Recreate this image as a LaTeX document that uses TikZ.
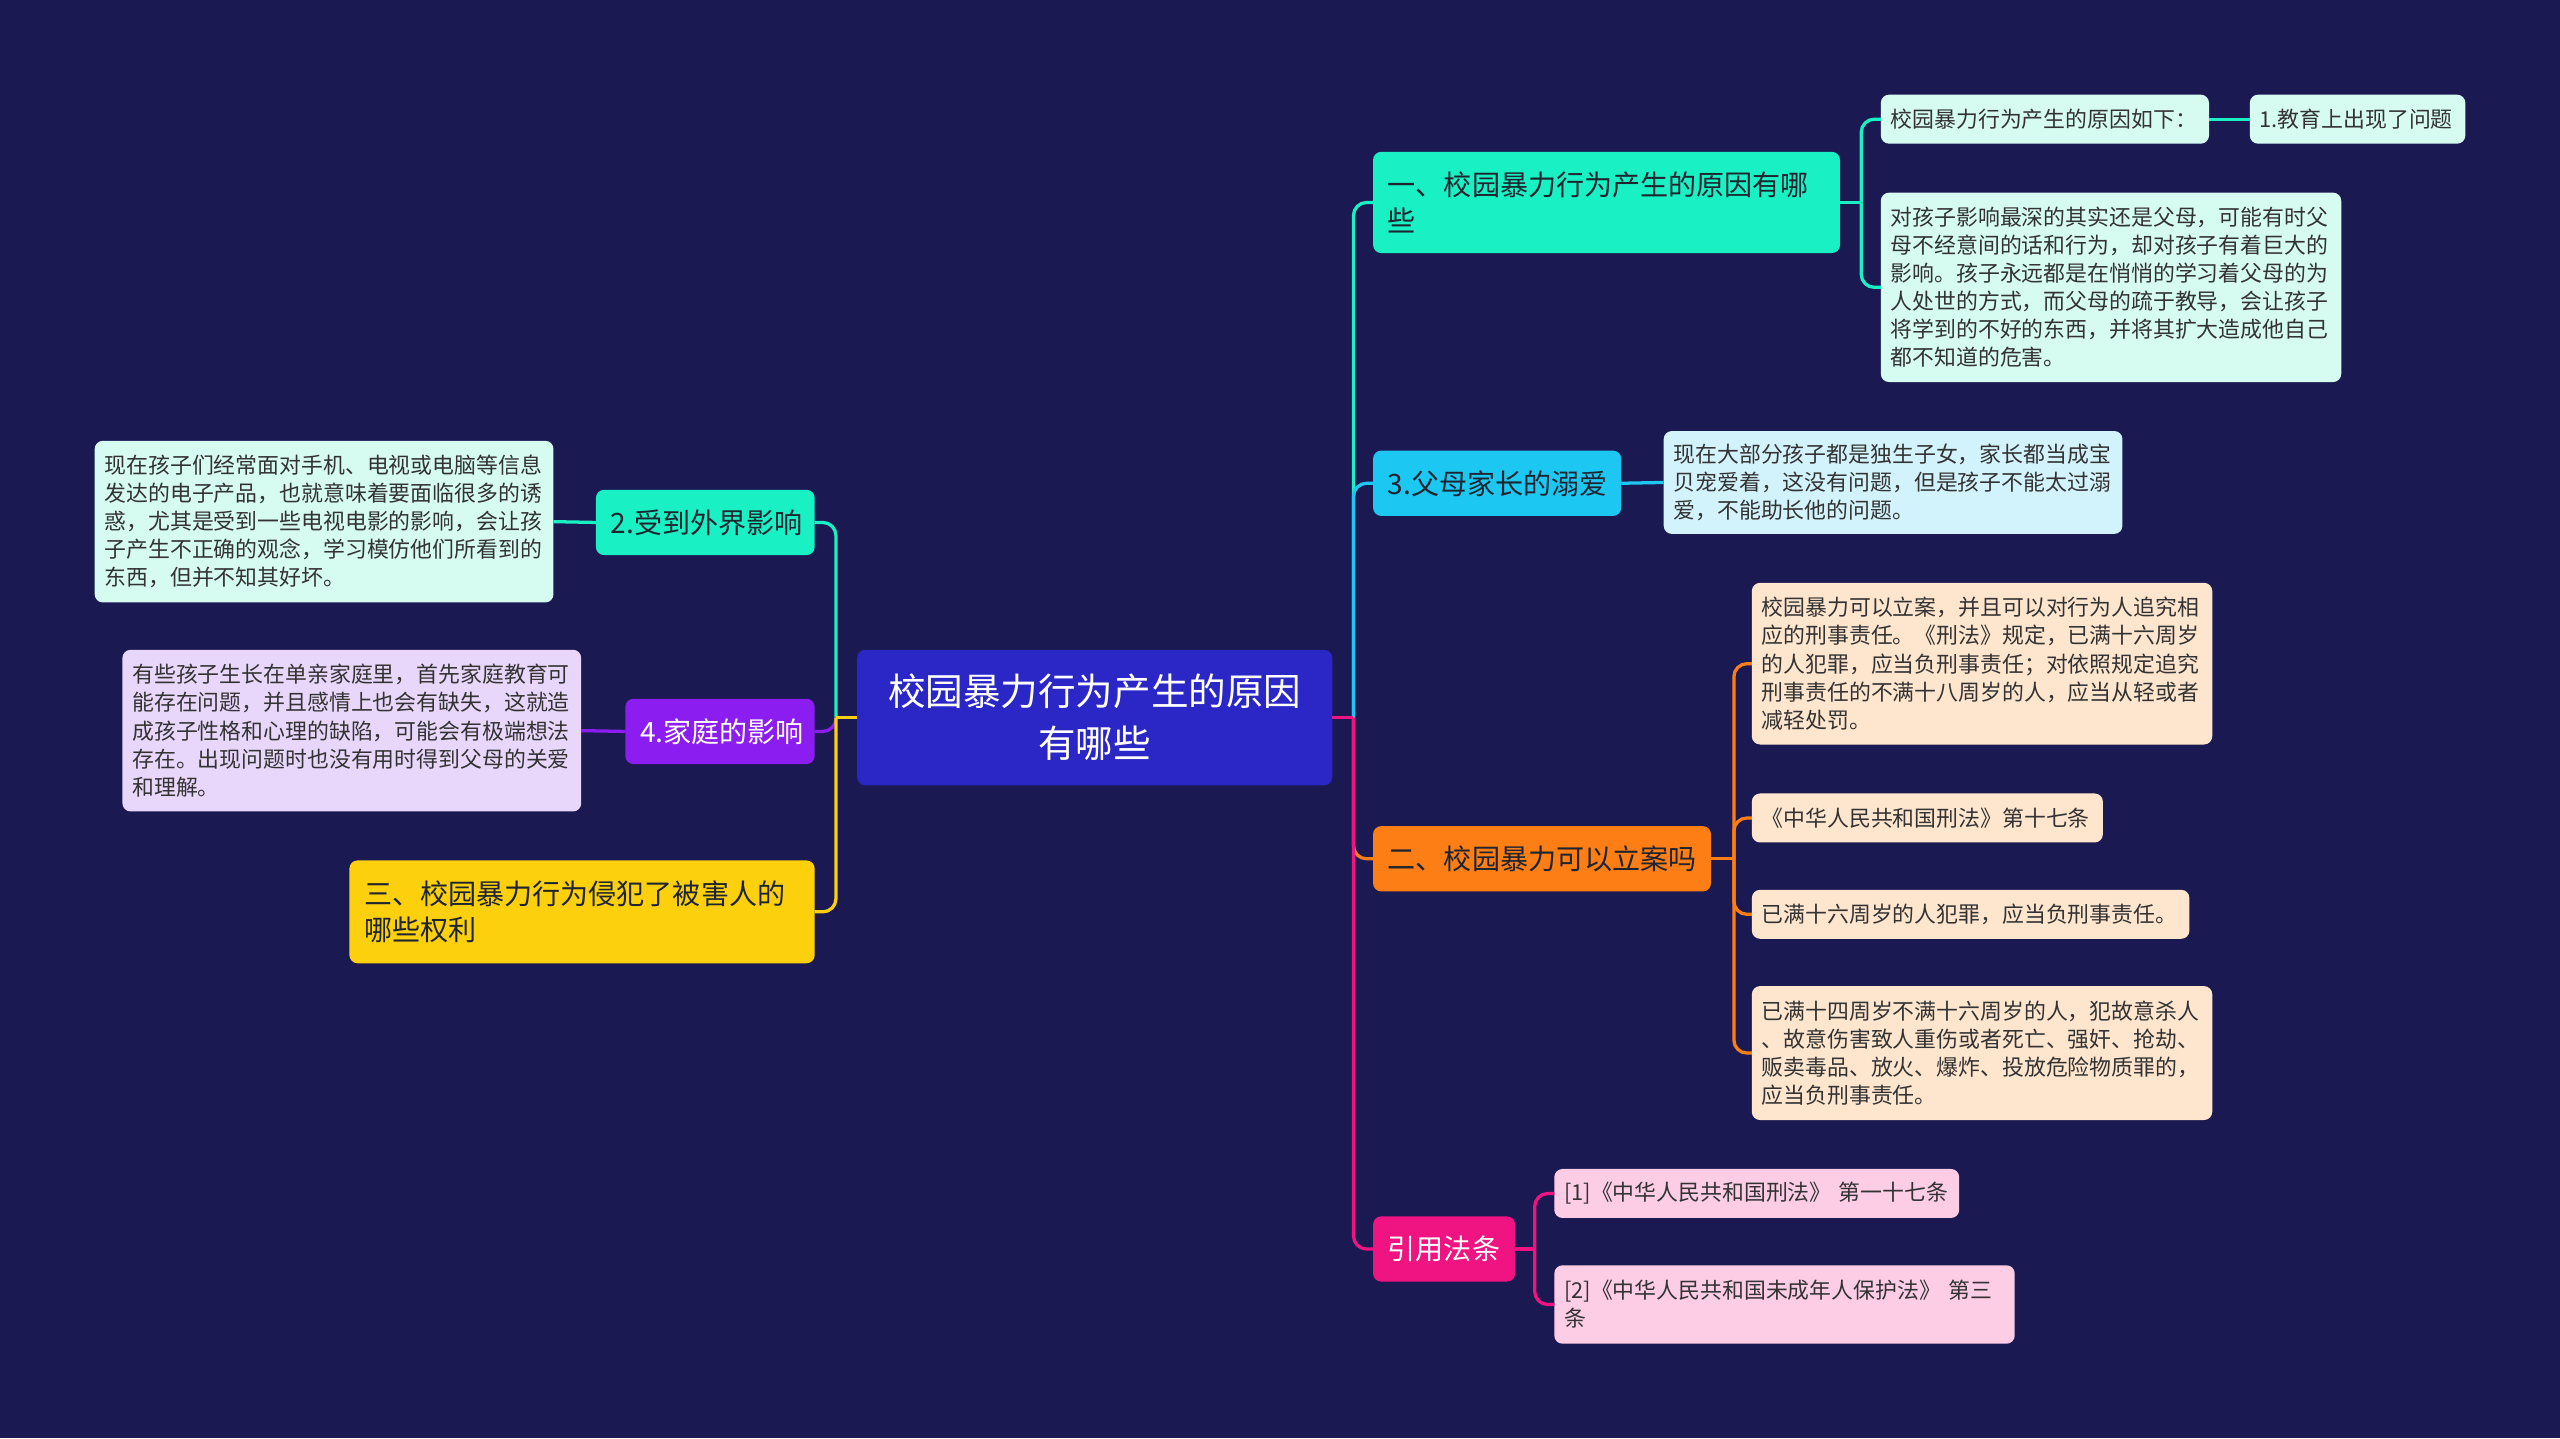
\documentclass[tikz,border=0pt]{standalone}
\usepackage{fontspec}
\newfontfamily\cjk{Noto Sans CJK SC}
\definecolor{bg}{HTML}{1B1951}
\definecolor{rootc}{HTML}{2B27C6}
\definecolor{tealc}{HTML}{19F0C3}
\definecolor{cyanc}{HTML}{1CC8F2}
\definecolor{orangec}{HTML}{FD7E14}
\definecolor{pinkc}{HTML}{EF1481}
\definecolor{purplec}{HTML}{8B1DF0}
\definecolor{yellowc}{HTML}{FDD00E}
\definecolor{ltteal}{HTML}{D6FBF1}
\definecolor{ltcyan}{HTML}{D3F3FC}
\definecolor{ltpeach}{HTML}{FEE5CE}
\definecolor{ltpink}{HTML}{FCCDE5}
\definecolor{ltpurple}{HTML}{E8D7FB}
\definecolor{darktext}{HTML}{1E2530}
\definecolor{leaftext}{HTML}{333333}
\tikzset{
  nodebox/.style={rounded corners=5pt, anchor=north west, inner ysep=0pt, outer sep=0pt},
  rootbox/.style={nodebox, fill=rootc, text=white, inner xsep=7pt, align=center,
     font=\cjk\fontsize{23}{31.8}\selectfont},
  mainbox/.style={nodebox, inner xsep=9pt, align=left,
     font=\cjk\fontsize{17.2}{22}\selectfont},
  leafbox/.style={nodebox, inner xsep=6pt, align=left, text=leaftext,
     font=\cjk\fontsize{13.4}{17.2}\selectfont},
  link/.style={line width=2pt, rounded corners=8pt}
}
\begin{document}
\begin{tikzpicture}[x=1pt,y=-1pt]
\fill[bg] (0,0) rectangle (1568,881);
\useasboundingbox (0,0) rectangle (1568,881);

% root
\node[rootbox, text width=277pt, minimum height=83pt] (root) at (525,398) {校园暴力行为产生的原因\\有哪些};

% right main nodes
\node[mainbox, fill=tealc, text=darktext, text width=268pt, minimum height=62pt] (A) at (841,93) {一、校园暴力行为产生的原因有哪\\些};
\node[mainbox, fill=cyanc, text=darktext, text width=134pt, minimum height=40pt] (B) at (841,276) {3.父母家长的溺爱};
\node[mainbox, fill=orangec, text=darktext, text width=189pt, minimum height=40pt] (C) at (841,506) {二、校园暴力可以立案吗};
\node[mainbox, fill=pinkc, text=white, text width=69pt, minimum height=40pt] (D) at (841,745) {引用法条};

% left main nodes
\node[mainbox, fill=tealc, text=darktext, text width=116pt, minimum height=40pt] (E) at (365,300) {2.受到外界影响};
\node[mainbox, fill=purplec, text=white, text width=98pt, minimum height=40pt] (F) at (383,428) {4.家庭的影响};
\node[mainbox, fill=yellowc, text=darktext, text width=267pt, minimum height=63pt] (G) at (214,527) {三、校园暴力行为侵犯了被害人的\\哪些权利};

% leaves
\node[leafbox, fill=ltteal, text width=189pt, minimum height=30pt] (A1) at (1152,58) {校园暴力行为产生的原因如下：};
\node[leafbox, fill=ltteal, text width=120pt, minimum height=30pt] (A1a) at (1378,58) {1.教育上出现了问题};
\node[leafbox, fill=ltteal, text width=270pt, minimum height=116pt] (A2) at (1152,118) {对孩子影响最深的其实还是父母，可能有时父\\母不经意间的话和行为，却对孩子有着巨大的\\影响。孩子永远都是在悄悄的学习着父母的为\\人处世的方式，而父母的疏于教导，会让孩子\\将学到的不好的东西，并将其扩大造成他自己\\都不知道的危害。};
\node[leafbox, fill=ltcyan, text width=269pt, minimum height=63pt] (B1) at (1019,264) {现在大部分孩子都是独生子女，家长都当成宝\\贝宠爱着，这没有问题，但是孩子不能太过溺\\爱，不能助长他的问题。};
\node[leafbox, fill=ltpeach, text width=270pt, minimum height=99pt] (C1) at (1073,357) {校园暴力可以立案，并且可以对行为人追究相\\应的刑事责任。《刑法》规定，已满十六周岁\\的人犯罪，应当负刑事责任；对依照规定追究\\刑事责任的不满十八周岁的人，应当从轻或者\\减轻处罚。};
\node[leafbox, fill=ltpeach, text width=203pt, minimum height=30pt] (C2) at (1073,486) {《中华人民共和国刑法》第十七条};
\node[leafbox, fill=ltpeach, text width=256pt, minimum height=30pt] (C3) at (1073,545) {已满十六周岁的人犯罪，应当负刑事责任。};
\node[leafbox, fill=ltpeach, text width=270pt, minimum height=82pt] (C4) at (1073,604) {已满十四周岁不满十六周岁的人，犯故意杀人\\、故意伤害致人重伤或者死亡、强奸、抢劫、\\贩卖毒品、放火、爆炸、投放危险物质罪的，\\应当负刑事责任。};
\node[leafbox, fill=ltpink, text width=236pt, minimum height=30pt] (D1) at (952,716) {[1]《中华人民共和国刑法》~第一十七条};
\node[leafbox, fill=ltpink, text width=270pt, minimum height=48pt] (D2) at (952,775) {[2]《中华人民共和国未成年人保护法》~第三\\条};
\node[leafbox, fill=ltteal, text width=269pt, minimum height=99pt] (E1) at (58,270) {现在孩子们经常面对手机、电视或电脑等信息\\发达的电子产品，也就意味着要面临很多的诱\\惑，尤其是受到一些电视电影的影响，会让孩\\子产生不正确的观念，学习模仿他们所看到的\\东西，但并不知其好坏。};
\node[leafbox, fill=ltpurple, text width=269pt, minimum height=99pt] (F1) at (75,398) {有些孩子生长在单亲家庭里，首先家庭教育可\\能存在问题，并且感情上也会有缺失，这就造\\成孩子性格和心理的缺陷，可能会有极端想法\\存在。出现问题时也没有用时得到父母的关爱\\和理解。};

% right connectors from root
\coordinate (rt) at ([xshift=13pt]root.east);
\draw[link, tealc] (rt) |- (A.west);
\draw[link, cyanc] (rt) |- (B.west);
\draw[link, orangec] (rt) |- (C.west);
\draw[link, pinkc] (rt) |- (D.west);
\draw[link, pinkc] (root.east) -- (rt);

% left connectors from root
\coordinate (lt) at ([xshift=-13pt]root.west);
\draw[link, tealc] (lt) |- (E.east);
\draw[link, purplec] (lt) |- (F.east);
\draw[link, yellowc] (lt) |- (G.east);
\draw[link, yellowc] (root.west) -- (lt);

% A children
\coordinate (ak) at ([xshift=13pt]A.east);
\draw[link, tealc] (A.east) -- (ak);
\draw[link, tealc] (ak) |- (A1.west);
\draw[link, tealc] (ak) |- (A2.west);
\draw[link, tealc] (A1.east) -- (A1a.west);

% B child
\draw[link, cyanc] (B.east) -- (B1.west);

% C children
\coordinate (ck) at ([xshift=14pt]C.east);
\draw[link, orangec] (C.east) -- (ck);
\draw[link, orangec] (ck) |- (C1.west);
\draw[link, orangec] (ck) |- (C2.west);
\draw[link, orangec] (ck) |- (C3.west);
\draw[link, orangec] (ck) |- (C4.west);

% D children
\coordinate (dk) at ([xshift=12pt]D.east);
\draw[link, pinkc] (D.east) -- (dk);
\draw[link, pinkc] (dk) |- (D1.west);
\draw[link, pinkc] (dk) |- (D2.west);

% E, F children
\draw[link, tealc] (E.west) -- (E1.east);
\draw[link, purplec] (F.west) -- (F1.east);
\end{tikzpicture}
\end{document}
